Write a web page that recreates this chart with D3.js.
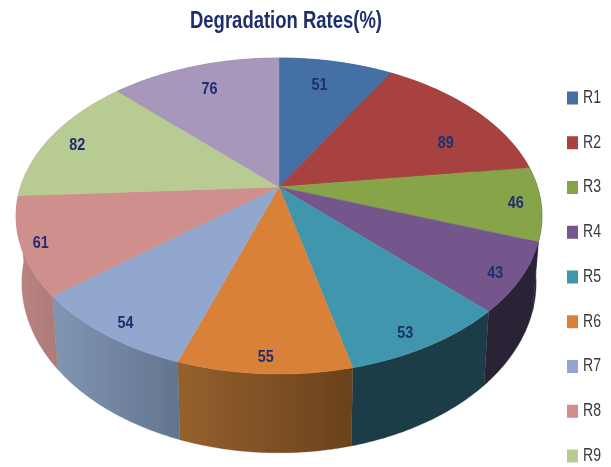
<!DOCTYPE html>
<html>
<head>
<meta charset="utf-8">
<script src="https://cdn.jsdelivr.net/npm/d3@7"></script>
<style>
  html, body { margin: 0; padding: 0; background: #fff; overflow: hidden; }
  text { font-family: "Liberation Sans", sans-serif; }
</style>
</head>
<body>
<script>
// DATA
const categories = ['R1', 'R2', 'R3', 'R4', 'R5', 'R6', 'R7', 'R8', 'R9', 'R10'];
const values = [51, 89, 46, 43, 53, 55, 54, 61, 82, 76];

// STYLES
const topColors = ['#4470a5', '#a74341', '#88a449', '#74568c', '#4096ad', '#d98139', '#92a7cd', '#cf8f8d', '#b8cb93', '#a797bb'];
const wallStart = ['#2f4d71', '#722e2d', '#2b2136', '#2b2136', '#1b3c47', '#96602c', '#8196b5', '#bb8582', '#bb8582', '#72687f'];
const wallEnd = ['#2f4d71', '#722e2d', '#2b2136', '#2b2136', '#1b3c47', '#69421d', '#62758f', '#ad7a78', '#bb8582', '#72687f'];
const textColor = '#1f2f6e';

// the source legend is cut off by the bottom of the picture, R10 does not fit
const legendCount = 9;

// label placement, fraction of radius and turn in degrees from the slice middle
const labelRadii = [0.79, 0.75, 0.905, 0.91, 0.91, 0.92, 0.917, 0.928, 0.876, 0.8];
const labelTurn = [-2, 9, 0, 1, 2, 0, -1, 0, -1, 0];

const width = 611;
const height = 467;
const apex = {x: 279, y: 187};

// perspective of the unit circle seen from the front
const scaleX = 258.5;
const scaleY = 152.7;
const tilt = -0.1835;

const projectTop = (angle, r = 1) => {
    const u = Math.sin(angle) * r;
    const v = -Math.cos(angle) * r;
    const d = 1 + tilt * v;
    return [apex.x + scaleX * u / d, apex.y + scaleY * v / d];
};

// bottom face of the disc
const projectBottom = angle => {
    const [x, y] = projectTop(angle);
    return [apex.x + (x - apex.x) * 0.978, y * 1.077 + 50];
};

const svg = d3.select('body').append('svg')
    .attr('width', width)
    .attr('height', height)
    .style('display', 'block');

const defs = svg.append('defs');
defs.append('filter').attr('id', 'soft')
    .append('feGaussianBlur').attr('stdDeviation', 0.45);

const root = svg.append('g').attr('filter', 'url(#soft)');

const arcsData = d3.pie().value(d => d).sort(null)(values);
const line = d3.line();
const sampleAngles = d => d3.range(0, 61).map(i => d.startAngle + (d.endAngle - d.startAngle) * i / 60);

// GRADIENTS
arcsData.forEach((d, i) => {
    const gradient = defs.append('linearGradient').attr('id', `wall${i}`);
    gradient.append('stop').attr('offset', '0%').attr('stop-color', wallStart[i]);
    gradient.append('stop').attr('offset', '100%').attr('stop-color', wallEnd[i]);
});

// WALLS
root.append('g').selectAll('path')
  .data(arcsData)
  .enter().append('path')
    .attr('d', d => {
        const angles = sampleAngles(d);
        return line([...angles.map(a => projectTop(a)), ...angles.reverse().map(projectBottom)]) + 'Z';
    })
    .attr('fill', (d, i) => `url(#wall${i})`)
    .attr('stroke', (d, i) => wallEnd[i])
    .attr('stroke-width', 0.3);

// TOP FACE
root.append('g').selectAll('path')
  .data(arcsData)
  .enter().append('path')
    .attr('d', d => line([[apex.x, apex.y], ...sampleAngles(d).map(a => projectTop(a))]) + 'Z')
    .attr('fill', (d, i) => topColors[i])
    .attr('stroke', (d, i) => topColors[i])
    .attr('stroke-width', 0.5);

// LABELS
root.append('g').selectAll('text')
  .data(arcsData)
  .enter().append('text')
    .attr('transform', (d, i) => {
        const mid = (d.startAngle + d.endAngle) / 2 + labelTurn[i] * Math.PI / 180;
        return `translate(${projectTop(mid, labelRadii[i])})`;
    })
    .attr('y', 2)
    .attr('text-anchor', 'middle')
    .attr('dominant-baseline', 'middle')
    .attr('fill', textColor)
    .attr('textLength', 16)
    .attr('lengthAdjust', 'spacingAndGlyphs')
    .style('font-size', '16px')
    .style('font-weight', 'bold')
    .text(d => d.value);

// TITLE
root.append('text')
    .attr('x', 286)
    .attr('y', 28)
    .attr('text-anchor', 'middle')
    .attr('fill', textColor)
    .attr('textLength', 192)
    .attr('lengthAdjust', 'spacingAndGlyphs')
    .style('font-size', '23px')
    .style('font-weight', 'bold')
    .text('Degradation Rates(%)');

// LEGEND
const legendScale = d3.scalePoint()
    .domain(categories.slice(0, legendCount))
    .range([98, 456]);

const legendItems = root.append('g').selectAll('g')
  .data(categories.slice(0, legendCount))
  .enter().append('g')
    .attr('transform', d => `translate(567, ${legendScale(d)})`);

legendItems.append('rect')
    .attr('y', -6.5)
    .attr('width', 11)
    .attr('height', 13)
    .attr('fill', (d, i) => topColors[i]);

legendItems.append('text')
    .attr('x', 16)
    .attr('dominant-baseline', 'middle')
    .attr('fill', '#3a3a3a')
    .attr('textLength', 18)
    .attr('lengthAdjust', 'spacingAndGlyphs')
    .style('font-size', '18px')
    .text(d => d);
</script>
</body>
</html>
